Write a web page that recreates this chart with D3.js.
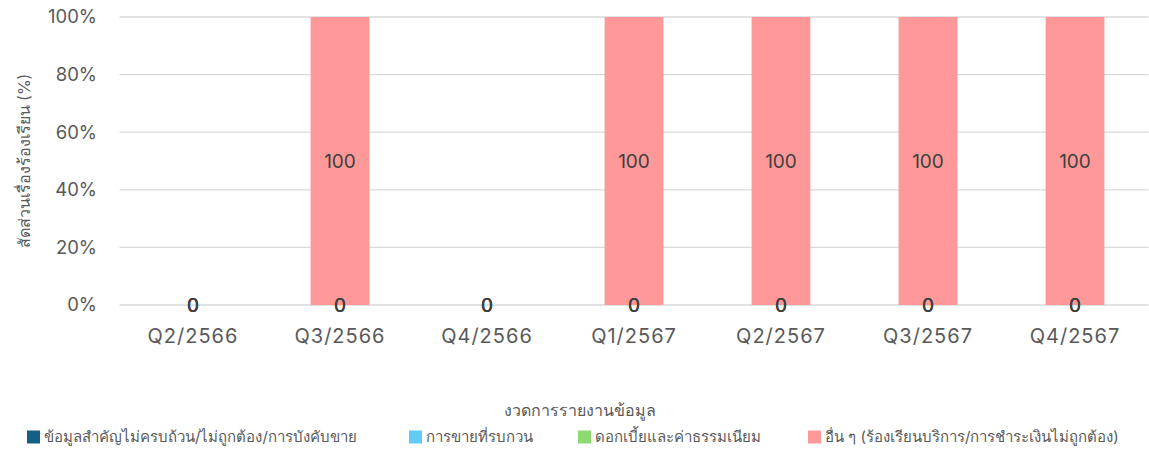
<!DOCTYPE html>
<html>
<head>
<meta charset="utf-8">
<script src="https://cdn.jsdelivr.net/npm/d3@7"></script>
<style>
  body { margin: 0; background: #fff; }
  text { font-family: "Inter", "Noto Sans", "DejaVu Sans", sans-serif; }
</style>
</head>
<body>
<svg id="chart" width="1149" height="454"></svg>
<script>
// data
var categories = ["Q2/2566", "Q3/2566", "Q4/2566", "Q1/2567", "Q2/2567", "Q3/2567", "Q4/2567"];
var seriesNames = [
  "ข้อมูลสำคัญไม่ครบถ้วน/ไม่ถูกต้อง/การบังคับขาย",
  "การขายที่รบกวน",
  "ดอกเบี้ยและค่าธรรมเนียม",
  "อื่น ๆ (ร้องเรียนบริการ/การชำระเงินไม่ถูกต้อง)"
];
var seriesColors = ["#156082", "#61cbf3", "#8ed973", "#ff9999"];
var s1 = [0, 0, 0, 0, 0, 0, 0];
var s2 = [0, 0, 0, 0, 0, 0, 0];
var s3 = [0, 0, 0, 0, 0, 0, 0];
var s4 = [0, 100, 0, 100, 100, 100, 100];
var yTicks = [0, 0.2, 0.4, 0.6, 0.8, 1];
var yTitle = "สัดส่วนเรื่องร้องเรียน (%)";
var xTitle = "งวดการรายงานข้อมูล";

var allSeries = [s1, s2, s3, s4];
var rows = categories.map(function(c, i) {
  var r = { cat: c };
  var tot = 0;
  allSeries.forEach(function(s, k) { r["s" + k] = s[i]; tot += s[i]; });
  allSeries.forEach(function(s, k) { r["p" + k] = tot ? s[i] / tot : 0; });
  return r;
});

var svg = d3.select("#chart");
var margin = { left: 119.5, right: 0.5, top: 17, bottom: 149 };
var width = 1149, height = 454;

var x = d3.scaleBand().domain(categories)
  .range([margin.left, width - margin.right])
  .paddingInner(0.6).paddingOuter(0.3);
var y = d3.scaleLinear().domain([0, 1]).range([height - margin.bottom, margin.top]);

// grid
svg.append("g").selectAll("line").data(yTicks).enter().append("line")
  .attr("x1", margin.left).attr("x2", width - margin.right)
  .attr("y1", d => y(d)).attr("y2", d => y(d))
  .attr("stroke", "#d9d9d9").attr("stroke-width", 1.3);

// y tick labels
svg.append("g").selectAll("text").data(yTicks).enter().append("text")
  .attr("x", 97).attr("y", d => y(d))
  .attr("dy", "0.35em")
  .attr("text-anchor", "end")
  .attr("fill", "#595959").style("font-size", "18.5px")
  .text(d3.format(".0%"));

var stack = d3.stack().keys(["p0", "p1", "p2", "p3"]);
var stacked = stack(rows);

svg.append("g").selectAll("g").data(stacked).enter().append("g")
  .attr("fill", (d, i) => seriesColors[i])
  .selectAll("rect").data(d => d).enter().append("rect")
  .attr("x", d => x(d.data.cat))
  .attr("width", x.bandwidth())
  .attr("y", d => y(d[1]))
  .attr("height", d => y(d[0]) - y(d[1]));

// data labels
var lbl = svg.append("g");
stacked.forEach(function(layer, k) {
  lbl.selectAll(null).data(layer).enter().append("text")
    .attr("x", d => x(d.data.cat) + x.bandwidth() / 2)
    .attr("y", d => y((d[0] + d[1]) / 2))
    .attr("dy", "0.35em")
    .attr("text-anchor", "middle")
    .attr("fill", "#404040").style("font-size", "19px")
    .text(d => d.data["s" + k]);
});

// x labels
svg.append("g").selectAll("text").data(categories).enter().append("text")
  .attr("x", d => x(d) + x.bandwidth() / 2).attr("y", 336)
  .attr("dy", "0.35em")
  .attr("text-anchor", "middle")
  .attr("fill", "#595959").style("font-size", "20px")
  .style("letter-spacing", "1px")
  .text(d => d);

// axis titles
svg.append("text")
  .attr("transform", "translate(24," + ((y(0) + y(1)) / 2) + ") rotate(-90)")
  .attr("text-anchor", "middle").attr("dy", "0.35em")
  .attr("fill", "#595959").style("font-size", "16px")
  .text(yTitle);

svg.append("text")
  .attr("x", 580).attr("y", 410).attr("dy", "0.35em")
  .attr("text-anchor", "middle")
  .attr("fill", "#595959").style("font-size", "16px")
  .text(xTitle);

// legend
var legendX = [27, 409, 578, 808];
var leg = svg.append("g").selectAll("g").data(seriesNames).enter().append("g")
  .attr("transform", (d, i) => "translate(" + legendX[i] + ",437)");
leg.append("rect").attr("x", 0).attr("y", -6.5).attr("width", 13).attr("height", 13)
  .attr("fill", (d, i) => seriesColors[i]);
leg.append("text").attr("x", 17).attr("y", 0).attr("dy", "0.35em")
  .attr("fill", "#595959").style("font-size", "15px")
  .text(d => d);
</script>
</body>
</html>
